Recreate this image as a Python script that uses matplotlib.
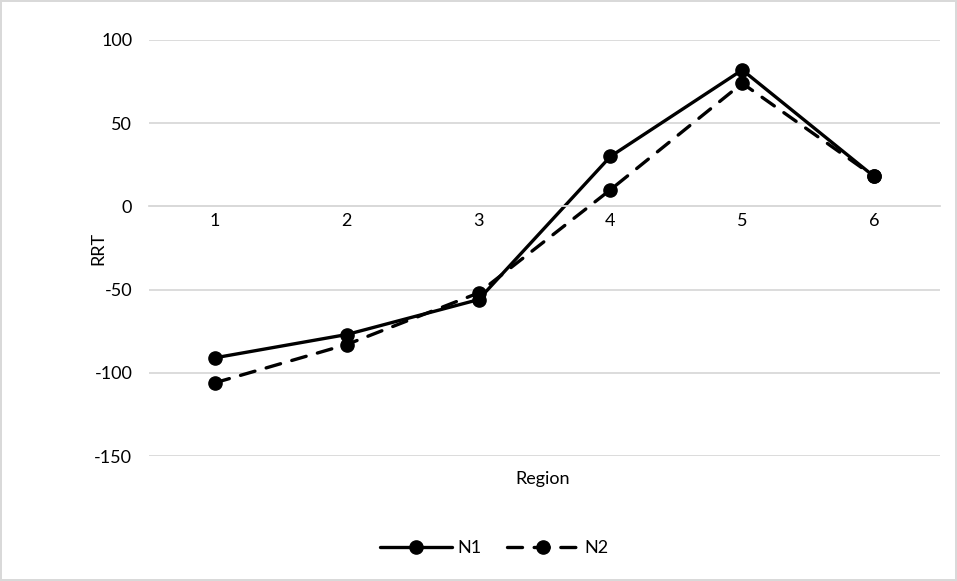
import numpy as np
import matplotlib
matplotlib.use("Agg")
import matplotlib.pyplot as plt

# data
regions = ["1", "2", "3", "4", "5", "6"]
n1 = [-91, -77, -56, 30, 82, 18]
n2 = [-106, -83, -52, 10, 74, 18]
y_ticks = [-150, -100, -50, 0, 50, 100]

plt.rcParams['font.family'] = ['Lato', 'DejaVu Sans']
grid_col = '#d9d9d9'
fs = 13

fig = plt.figure(figsize=(9.57, 5.81), dpi=100)
fig.patch.set_edgecolor(grid_col)
fig.patch.set_linewidth(1.5)

ax = fig.add_axes([149/957, 1 - 456/581, (940 - 149)/957, (456 - 40)/581])
x = np.arange(len(regions))

ax.plot(x, n1, color='black', lw=2.4, marker='o', ms=9.5, label='N1',
        solid_capstyle='round')
ax.plot(x, n2, color='black', lw=2.4, marker='o', ms=9.5, label='N2',
        linestyle=(0, (4.5, 3.5)), dash_capstyle='round')

ax.set_xlim(-0.5, len(regions) - 0.5)
ax.set_ylim(-150, 100)
ax.set_yticks(y_ticks)
ax.set_yticklabels([str(v) for v in y_ticks])
ax.yaxis.grid(True, color=grid_col, lw=1.3)
ax.set_axisbelow(True)

ax.set_xticks(x)
ax.set_xticklabels(regions)
ax.tick_params(length=0, labelsize=fs)
ax.tick_params(axis='y', pad=12)
ax.tick_params(axis='x', pad=5)

for s in ['top', 'right', 'left']:
    ax.spines[s].set_visible(False)
ax.spines['bottom'].set_position(('data', 0))
ax.spines['bottom'].set_color(grid_col)
ax.spines['bottom'].set_linewidth(1.3)

fig.text(543/957, 1 - 479/581, 'Region', fontsize=fs, ha='center', va='center')
fig.text(98/957, 1 - 248/581, 'RRT', fontsize=fs, ha='center', va='center',
         rotation=90)

fig.legend(loc='center', bbox_to_anchor=(494/957, 1 - 548/581), ncol=2,
           frameon=False, fontsize=fs, handlelength=4.0, handletextpad=0.3,
           columnspacing=1.4)

fig.savefig('out.png', dpi=100)
